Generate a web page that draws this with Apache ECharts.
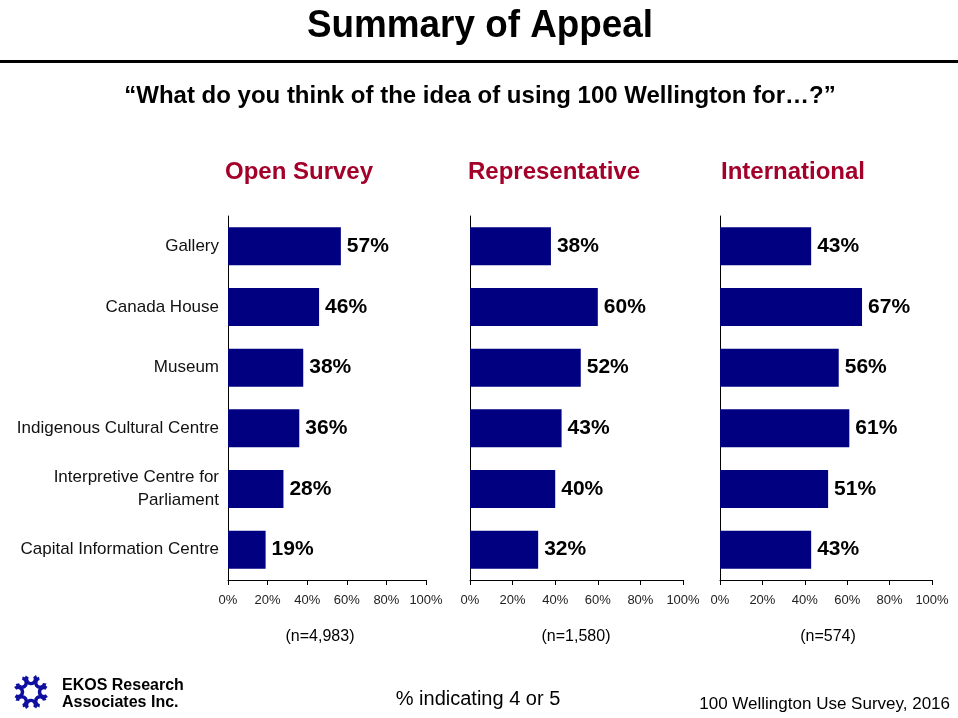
<!DOCTYPE html>
<html>
<head>
<meta charset="utf-8">
<script src="https://cdn.jsdelivr.net/npm/echarts@6/dist/echarts.min.js"></script>
<style>
html,body{margin:0;padding:0;background:#fff;}
#c{width:958px;height:718px;}
</style>
</head>
<body>
<div id="c"></div>
<script>
var categories = ['Gallery', 'Canada House', 'Museum', 'Indigenous Cultural Centre', 'Interpretive Centre for\nParliament', 'Capital Information Centre'];
var panelTitles = ['Open Survey', 'Representative', 'International'];
var sampleSizes = ['(n=4,983)', '(n=1,580)', '(n=574)'];
var openSurvey = [57, 46, 38, 36, 28, 19];
var representative = [38, 60, 52, 43, 40, 32];
var international = [43, 67, 56, 61, 51, 43];
var seriesData = [openSurvey, representative, international];

var ARIAL = '"Liberation Sans",Arial,sans-serif';
var NAVY = '#000080';

var grids = [
  {left: 228, right: 532, top: 216, bottom: 138},
  {left: 470, right: 275, top: 216, bottom: 138},
  {left: 720, right: 26, top: 216, bottom: 138}
];

var xAxes = [], yAxes = [], series = [];
for (var i = 0; i < 3; i++) {
  xAxes.push({
    type: 'value', gridIndex: i, min: 0, max: 100, interval: 20,
    axisLine: {show: true, lineStyle: {color: '#000', width: 1}},
    axisTick: {show: true, length: 5, lineStyle: {color: '#000'}},
    splitLine: {show: false},
    axisLabel: {formatter: '{value}%', color: '#222', fontFamily: ARIAL, fontSize: 13, margin: 14}
  });
  yAxes.push({
    type: 'category', gridIndex: i, data: categories, inverse: true,
    axisLine: {show: true, lineStyle: {color: '#000', width: 1}},
    axisTick: {show: false},
    axisLabel: {show: i === 0, color: '#111', fontFamily: ARIAL, fontSize: 17, margin: 9, lineHeight: 23}
  });
  series.push({
    type: 'bar', xAxisIndex: i, yAxisIndex: i, data: seriesData[i], barWidth: 38,
    itemStyle: {color: NAVY},
    label: {show: true, position: 'right', distance: 6, formatter: '{c}%', color: '#000',
      fontFamily: ARIAL, fontWeight: 'bold', fontSize: 21}
  });
}

function txt(x, y, text, size, opts) {
  opts = opts || {};
  return {
    type: 'text', x: x, y: y, scaleX: opts.sx || 1,
    style: {text: text, fontFamily: ARIAL, fontSize: size, fontWeight: opts.bold ? 'bold' : 'normal',
      fill: opts.fill || '#000', align: opts.align || 'center', verticalAlign: 'middle'}
  };
}

var titleCenters = [299, 554, 793];
var nCenters = [320, 576, 828];
var graphic = [
  txt(480, 27, 'Summary of Appeal', 38, {bold: true, sx: 0.97}),
  {type: 'rect', shape: {x: 0, y: 60, width: 958, height: 3}, style: {fill: '#000'}},
  txt(480, 96, '\u201cWhat do you think of the idea of using 100 Wellington for\u2026?\u201d', 24, {bold: true}),
  txt(478, 699, '% indicating 4 or 5', 20),
  txt(950, 704, '100 Wellington Use Survey, 2016', 17, {align: 'right'}),
  txt(62, 686, 'EKOS Research', 16, {bold: true, align: 'left'}),
  txt(62, 703, 'Associates Inc.', 16, {bold: true, align: 'left'})
];
for (var j = 0; j < 3; j++) {
  graphic.push(txt(titleCenters[j], 172, panelTitles[j], 24, {bold: true, fill: '#a3002a'}));
  graphic.push(txt(nCenters[j], 637, sampleSizes[j], 16));
}
// EKOS logo: ring of curls
var cx = 31, cy = 692;
for (var k = 0; k < 8; k++) {
  var a = k * Math.PI / 4;
  graphic.push({type: 'arc', shape: {cx: cx + 13 * Math.cos(a), cy: cy + 13 * Math.sin(a), r: 4.5, startAngle: a + 0.9, endAngle: a + 0.9 + Math.PI * 1.4},
    style: {stroke: '#1010a0', lineWidth: 3.5, fill: null}});
}

var chart = echarts.init(document.getElementById('c'));
chart.setOption({
  animation: false,
  backgroundColor: '#fff',
  grid: grids,
  xAxis: xAxes,
  yAxis: yAxes,
  series: series,
  graphic: graphic
});
</script>
</body>
</html>
